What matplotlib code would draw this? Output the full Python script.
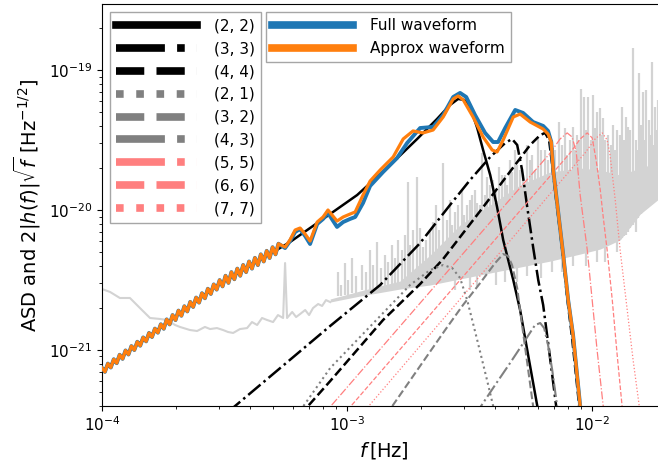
import numpy as np
import matplotlib
matplotlib.use('Agg')
import matplotlib.pyplot as plt

# Values, kept as log10(f [Hz]) and log10(amplitude)

# inspiral part shared by both waveforms (fast wiggles)
inspiral_logf = [-4.000, -3.988, -3.976, -3.964, -3.952, -3.940, -3.928, -3.916, -3.904, -3.892,
                 -3.880, -3.868, -3.856, -3.844, -3.832, -3.820, -3.808, -3.796, -3.784, -3.772,
                 -3.760, -3.748, -3.736, -3.724, -3.712, -3.700, -3.688, -3.676, -3.664, -3.652,
                 -3.640, -3.628, -3.616, -3.604, -3.592, -3.580, -3.568, -3.556, -3.544, -3.532,
                 -3.520, -3.508, -3.496, -3.484, -3.472, -3.460, -3.448, -3.436, -3.424, -3.412,
                 -3.400, -3.388, -3.376, -3.364, -3.352, -3.340, -3.328, -3.316, -3.304, -3.292,
                 -3.280]
inspiral_logh = [-21.128, -21.156, -21.097, -21.125, -21.066, -21.094, -21.034, -21.063, -21.003, -21.032,
                 -20.972, -21.000, -20.941, -20.969, -20.910, -20.938, -20.878, -20.907, -20.847, -20.876,
                 -20.816, -20.848, -20.781, -20.817, -20.750, -20.786, -20.718, -20.755, -20.687, -20.724,
                 -20.656, -20.692, -20.625, -20.661, -20.594, -20.630, -20.562, -20.599, -20.531, -20.568,
                 -20.500, -20.545, -20.469, -20.520, -20.443, -20.494, -20.418, -20.469, -20.392, -20.443,
                 -20.367, -20.418, -20.341, -20.393, -20.316, -20.367, -20.291, -20.342, -20.265, -20.316,
                 -20.240]

full_logf = [-3.253, -3.233, -3.212, -3.192, -3.171, -3.151, -3.122, -3.098, -3.078, -3.041,
             -3.016, -2.988, -2.967, -2.935, -2.906, -2.853, -2.796, -2.755, -2.702, -2.649,
             -2.608, -2.567, -2.539, -2.514, -2.478, -2.437, -2.404, -2.384, -2.355, -2.314,
             -2.282, -2.241, -2.200, -2.180, -2.167, -2.159, -2.143, -2.118, -2.098, -2.078,
             -2.049, -2.033]
full_logh = [-20.271, -20.221, -20.156, -20.135, -20.185, -20.242, -20.099, -20.063, -20.020, -20.120,
             -20.085, -20.063, -20.049, -19.949, -19.827, -19.727, -19.627, -19.520, -19.413, -19.405,
             -19.320, -19.191, -19.162, -19.191, -19.320, -19.448, -19.513, -19.513, -19.413, -19.284,
             -19.305, -19.370, -19.398, -19.434, -19.513, -19.713, -19.949, -20.321, -20.643, -20.893,
             -21.400, -21.643]

approx_logf = [-3.253, -3.233, -3.212, -3.192, -3.171, -3.151, -3.122, -3.098, -3.078, -3.041,
               -3.016, -2.988, -2.967, -2.935, -2.906, -2.865, -2.812, -2.771, -2.731, -2.690,
               -2.649, -2.608, -2.567, -2.547, -2.526, -2.486, -2.445, -2.408, -2.388, -2.363,
               -2.322, -2.294, -2.253, -2.200, -2.180, -2.167, -2.159, -2.143, -2.118, -2.098,
               -2.078, -2.049, -2.033]
approx_logh = [-20.264, -20.213, -20.142, -20.128, -20.171, -20.221, -20.085, -20.049, -19.999, -20.078,
               -20.049, -20.028, -20.013, -19.892, -19.792, -19.713, -19.620, -19.491, -19.434, -19.448,
               -19.427, -19.334, -19.205, -19.184, -19.212, -19.334, -19.477, -19.570, -19.584, -19.498,
               -19.334, -19.313, -19.370, -19.420, -19.456, -19.513, -19.713, -19.949, -20.321, -20.643,
               -20.893, -21.400, -21.643]

# individual harmonics
h22_logf = [-4.000, -3.804, -3.531, -3.233, -3.098, -2.959, -2.824, -2.714, -2.633, -2.580,
            -2.547, -2.522, -2.498, -2.469, -2.445, -2.416, -2.388, -2.363, -2.322, -2.294,
            -2.265, -2.224, -2.208]
h22_logh = [-21.150, -20.895, -20.540, -20.228, -20.063, -19.892, -19.677, -19.491, -19.348, -19.248,
            -19.205, -19.212, -19.262, -19.413, -19.570, -19.749, -19.978, -20.214, -20.499, -20.714,
            -21.000, -21.400, -21.572]

h33_logf = [-3.486, -3.273, -3.069, -2.865, -2.702, -2.580, -2.498, -2.416, -2.355, -2.327,
            -2.306, -2.286, -2.265, -2.241, -2.220, -2.200, -2.176, -2.147, -2.135]
h33_logh = [-21.443, -21.129, -20.828, -20.535, -20.235, -19.963, -19.784, -19.620, -19.520, -19.491,
            -19.534, -19.713, -19.978, -20.264, -20.500, -20.678, -21.000, -21.400, -21.572]

h44_logf = [-3.192, -3.069, -2.853, -2.702, -2.608, -2.457, -2.367, -2.253, -2.212, -2.192,
            -2.176, -2.163, -2.147, -2.122, -2.102, -2.082, -2.053, -2.037]
h44_logh = [-21.465, -21.222, -20.785, -20.528, -20.349, -20.006, -19.799, -19.534, -19.463, -19.448,
            -19.498, -19.677, -19.927, -20.285, -20.628, -20.914, -21.400, -21.644]

h21_logf = [-3.204, -3.069, -2.865, -2.743, -2.661, -2.608, -2.571, -2.539, -2.510, -2.469,
            -2.429, -2.404, -2.392]
h21_logh = [-21.465, -21.129, -20.757, -20.535, -20.428, -20.392, -20.414, -20.485, -20.643, -20.929,
            -21.215, -21.400, -21.501]

h32_logf = [-2.841, -2.702, -2.600, -2.527, -2.457, -2.396, -2.363, -2.343, -2.327, -2.306,
            -2.286, -2.261, -2.241, -2.229]
h32_logh = [-21.465, -21.114, -20.857, -20.678, -20.521, -20.378, -20.314, -20.328, -20.392, -20.557,
            -20.821, -21.143, -21.400, -21.536]

h43_logf = [-2.478, -2.396, -2.335, -2.273, -2.233, -2.212, -2.196, -2.180, -2.163, -2.143, -2.131]
h43_logh = [-21.465, -21.250, -21.093, -20.929, -20.821, -20.807, -20.843, -20.964, -21.143, -21.400, -21.536]

h55_logf = [-3.098, -2.171, -2.131, -2.102, -2.082, -2.065, -2.049, -2.020, -2.000, -1.980, -1.955, -1.943]
h55_logh = [-21.465, -19.591, -19.491, -19.448, -19.477, -19.584, -19.892, -20.285, -20.643, -21.000,
            -21.400, -21.572]

h66_logf = [-3.016, -2.090, -2.049, -2.020, -2.000, -1.984, -1.967, -1.955, -1.939, -1.918,
            -1.898, -1.878, -1.865]
h66_logh = [-21.465, -19.591, -19.491, -19.448, -19.484, -19.641, -19.856, -20.049, -20.285, -20.643,
            -21.036, -21.400, -21.608]

h77_logf = [-2.943, -2.029, -1.988, -1.959, -1.939, -1.927, -1.906, -1.886, -1.857, -1.833, -1.808, -1.796]
h77_logh = [-21.465, -19.591, -19.491, -19.448, -19.498, -19.606, -19.927, -20.285, -20.714, -21.072,
            -21.400, -21.572]

# noise ASD: smooth low-frequency part
asd_logf = [-4.000, -3.967, -3.927, -3.886, -3.845, -3.804, -3.763, -3.735, -3.702, -3.682,
            -3.641, -3.612, -3.580, -3.559, -3.531, -3.506, -3.486, -3.465, -3.437, -3.408,
            -3.388, -3.367, -3.347, -3.327, -3.302, -3.282, -3.261, -3.253, -3.245, -3.224,
            -3.208, -3.192, -3.171, -3.155, -3.139, -3.118, -3.102, -3.086, -3.069]
asd_logh = [-20.564, -20.585, -20.628, -20.628, -20.700, -20.771, -20.778, -20.785, -20.821, -20.835,
            -20.857, -20.864, -20.835, -20.850, -20.843, -20.857, -20.871, -20.878, -20.850, -20.843,
            -20.800, -20.821, -20.771, -20.785, -20.800, -20.750, -20.771, -20.378, -20.771, -20.728,
            -20.764, -20.743, -20.714, -20.750, -20.700, -20.671, -20.685, -20.643, -20.657]

# noise ASD at higher frequencies: dense core plus lines
band_logf = [-3.069, -2.947, -2.784, -2.661, -2.539, -2.416, -2.294, -2.171, -2.049, -1.967,
             -1.886, -1.804, -1.698]
band_lo = [-20.657, -20.614, -20.564, -20.535, -20.492, -20.449, -20.407, -20.364, -20.314, -20.278,
           -20.213, -20.028, -19.877]
band_hi = [-20.635, -20.578, -20.507, -20.321, -20.106, -19.963, -19.820, -19.727, -19.699, -19.713,
           -19.749, -19.699, -19.641]

spike_logf = [-3.037, -3.008, -2.980, -2.939, -2.906, -2.878, -2.845, -2.816, -2.792, -2.751,
              -2.731, -2.714, -2.690, -2.661, -2.637, -2.608, -2.592, -2.580, -2.559, -2.531,
              -2.510, -2.490, -2.469, -2.449, -2.429, -2.404, -2.380, -2.355, -2.335, -2.314,
              -2.294, -2.265, -2.245, -2.220, -2.192, -2.163, -2.135, -2.110, -2.090, -2.078,
              -2.061, -2.045, -2.033, -2.016, -1.996, -1.980, -1.967, -1.955, -1.935, -1.914,
              -1.898, -1.878, -1.861, -1.853, -1.833, -1.820, -1.808, -1.792, -1.780, -1.767,
              -1.755, -1.743, -1.731]
spike_top = [-20.442, -20.378, -20.342, -20.392, -20.285, -20.228, -20.321, -20.249, -20.213, -19.799,
             -20.142, -19.763, -20.264, -20.142, -19.963, -19.663, -20.070, -19.927, -20.013, -19.856,
             -19.963, -19.892, -19.949, -19.591, -19.763, -19.784, -19.691, -19.749, -19.641, -19.570,
             -19.713, -19.534, -19.606, -19.477, -19.570, -19.498, -19.370, -19.413, -19.498, -19.405,
             -19.463, -19.134, -19.191, -19.191, -19.177, -19.298, -19.270, -19.341, -19.463, -19.391,
             -19.427, -19.262, -19.334, -19.405, -18.841, -19.498, -19.019, -19.155, -19.141, -19.355,
             -18.941, -19.262, -19.212]
spike_base = [-20.614, -20.607, -20.592, -20.571, -20.571, -20.557, -20.550, -20.542, -20.535, -20.528,
              -20.521, -20.521, -20.521, -20.514, -20.507, -20.499, -20.492, -20.492, -20.571, -20.478,
              -20.471, -20.464, -20.542, -20.449, -20.442, -20.435, -20.428, -20.514, -20.407, -20.399,
              -20.392, -20.471, -20.378, -20.371, -20.364, -20.442, -20.342, -20.335, -20.328, -20.399,
              -20.314, -20.306, -20.299, -20.292, -20.285, -20.371, -20.271, -20.264, -20.249, -20.235,
              -20.299, -20.199, -20.178, -20.156, -20.106, -20.156, -20.035, -19.999, -19.978, -19.956,
              -19.935, -19.920, -19.906]

# smaller lines in between
spike2_logf = [-3.024, -2.996, -2.963, -2.922, -2.894, -2.861, -2.833, -2.804, -2.776, -2.763,
               -2.743, -2.702, -2.678, -2.649, -2.624, -2.571, -2.547, -2.522, -2.498, -2.478,
               -2.457, -2.437, -2.416, -2.392, -2.367, -2.347, -2.327, -2.306, -2.282, -2.253,
               -2.233, -2.208, -2.180, -2.151, -2.122, -2.102, -2.069, -2.053, -2.024, -2.004,
               -1.988, -1.959, -1.947, -1.922, -1.906, -1.886, -1.869, -1.845, -1.812, -1.800,
               -1.784, -1.763, -1.747, -1.735]
spike2_top = [-20.535, -20.499, -20.471, -20.442, -20.392, -20.414, -20.371, -20.342, -20.285, -20.178,
              -20.249, -20.128, -20.213, -20.085, -20.142, -20.106, -19.963, -20.035, -19.927, -19.856,
              -19.963, -19.892, -19.820, -19.856, -19.749, -19.820, -19.727, -19.677, -19.749, -19.641,
              -19.713, -19.570, -19.641, -19.570, -19.534, -19.606, -19.570, -19.498, -19.427, -19.498,
              -19.413, -19.463, -19.498, -19.534, -19.570, -19.463, -19.498, -19.427, -19.570, -19.391,
              -19.498, -19.463, -19.534, -19.427]
spike2_base = [-20.614, -20.607, -20.592, -20.578, -20.571, -20.564, -20.557, -20.550, -20.542, -20.542,
               -20.535, -20.535, -20.528, -20.521, -20.514, -20.499, -20.492, -20.485, -20.571, -20.471,
               -20.464, -20.457, -20.449, -20.535, -20.435, -20.428, -20.414, -20.514, -20.399, -20.392,
               -20.385, -20.485, -20.371, -20.356, -20.442, -20.335, -20.321, -20.314, -20.399, -20.292,
               -20.285, -20.271, -20.371, -20.242, -20.228, -20.213, -20.185, -20.128, -20.056, -20.028,
               -19.999, -19.963, -19.927, -19.913]

mode_labels = ['(2, 2)', '(3, 3)', '(4, 4)', '(2, 1)', '(3, 2)', '(4, 3)', '(5, 5)', '(6, 6)', '(7, 7)']
mode_data = [(h22_logf, h22_logh), (h33_logf, h33_logh), (h44_logf, h44_logh),
             (h21_logf, h21_logh), (h32_logf, h32_logh), (h43_logf, h43_logh),
             (h55_logf, h55_logh), (h66_logf, h66_logh), (h77_logf, h77_logh)]
mode_colors = ['k', 'k', 'k', 'grey', 'grey', 'grey', '#ff7f7f', '#ff7f7f', '#ff7f7f']
mode_styles = ['-', '-.', '--', ':', '--', '-.', '-.', '--', ':']
mode_widths = [1.8, 1.8, 1.8, 1.5, 1.5, 1.5, 0.9, 0.9, 0.9]


def p(a):
    return 10.0 ** np.asarray(a)


fig = plt.figure(figsize=(6.58, 4.66), dpi=100)
ax = fig.add_axes([0.1550, 0.1288, 0.8571, 0.8627])

noise_c = 'lightgrey'
ax.plot(p(asd_logf), p(asd_logh), color=noise_c, lw=1.5, zorder=1)
ax.fill_between(p(band_logf), p(band_lo), p(band_hi), color=noise_c, lw=0, zorder=1)
ax.vlines(p(spike_logf), p(spike_base), p(spike_top), color=noise_c, lw=1.6, zorder=1)
ax.vlines(p(spike2_logf), p(spike2_base), p(spike2_top), color=noise_c, lw=1.6, zorder=1)

mode_lines = []
for (lf, lh), lab, c, ls, lw in zip(mode_data, mode_labels, mode_colors, mode_styles, mode_widths):
    ln, = ax.plot(p(lf), p(lh), color=c, ls=ls, lw=lw, label=lab, zorder=2)
    mode_lines.append(ln)

full, = ax.plot(p(inspiral_logf + full_logf), p(inspiral_logh + full_logh),
                color='#1f77b4', lw=2.8, label='Full waveform', zorder=3)
approx, = ax.plot(p(inspiral_logf + approx_logf), p(inspiral_logh + approx_logh),
                  color='#ff7f0e', lw=2.3, label='Approx waveform', zorder=4)

ax.set_xscale('log')
ax.set_yscale('log')
ax.set_xlim(1e-4, 2e-2)
ax.set_ylim(10 ** -21.400, 10 ** -18.526)
ax.set_xticks([1e-4, 1e-3, 1e-2])
ax.set_yticks([1e-21, 1e-20, 1e-19])
ax.set_xlabel(r'$f\,$[Hz]', fontsize=14)
ax.set_ylabel(r'ASD and $2|h(f)|\sqrt{f}$ [Hz$^{-1/2}$]', fontsize=14)
ax.tick_params(labelsize=11)

leg_kw = dict(loc='upper left', borderaxespad=0, fontsize=11, handlelength=5.3,
              handletextpad=1.1, labelspacing=0.52, fancybox=False, framealpha=1,
              edgecolor='0.65')
leg1 = ax.legend(handles=mode_lines, bbox_to_anchor=(0.0142, 0.980), **leg_kw)
for h in leg1.legend_handles:
    h.set_linewidth(5.5)
ax.add_artist(leg1)
leg2 = ax.legend(handles=[full, approx], bbox_to_anchor=(0.2908, 0.980), **leg_kw)
for h in leg2.legend_handles:
    h.set_linewidth(5.5)

fig.savefig('out.png', dpi=100)
